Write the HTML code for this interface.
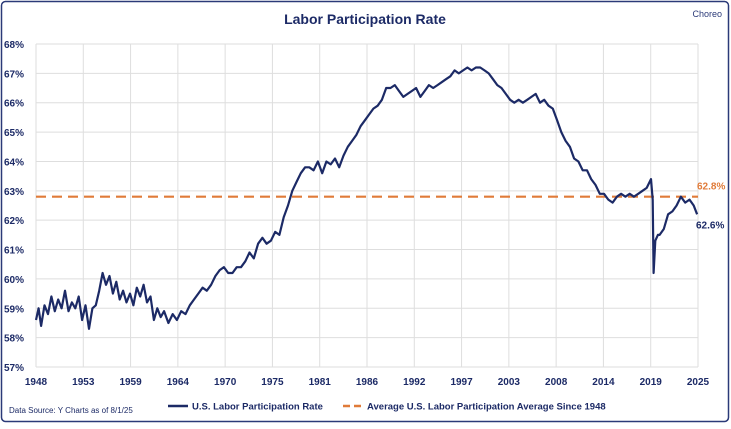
<!DOCTYPE html>
<html><head><meta charset="utf-8"><style>
body{margin:0;background:#fff;font-family:"Liberation Sans",sans-serif}
svg text{font-family:"Liberation Sans",sans-serif}
</style></head><body>
<svg width="731" height="424" viewBox="0 0 731 424">
<rect x="1.5" y="1.5" width="727" height="420" rx="4" fill="#fff" stroke="#2b3a78" stroke-width="1.5"/>
<text x="365" y="24" text-anchor="middle" font-size="14" font-weight="bold" fill="#1c2a66">Labor Participation Rate</text>
<text x="722" y="17" text-anchor="end" font-size="9" fill="#2b3a78">Choreo</text>
<g id="grid"></g>
<g id="axes"></g>
<g id="series"></g>
<g>
<line x1="168" y1="406" x2="188" y2="406" stroke="#1c2a66" stroke-width="2.5"/>
<text x="192" y="409.5" font-size="9.5" font-weight="bold" fill="#1c2a66">U.S. Labor Participation Rate</text>
<line x1="343" y1="406" x2="363" y2="406" stroke="#e07b39" stroke-width="2.5" stroke-dasharray="7,4"/>
<text x="367" y="409.5" font-size="9.5" font-weight="bold" fill="#1c2a66">Average U.S. Labor Participation Average Since 1948</text>
</g>
<text x="9" y="413" font-size="8" fill="#1c2a66">Data Source: Y Charts as of 8/1/25</text>
</svg>
<script>
const yTicks=[57,58,59,60,61,62,63,64,65,66,67,68];
const xTickLabels=["1948","1953","1959","1964","1970","1975","1981","1986","1992","1997","2003","2008","2014","2019","2025"];
const years=[1948,1948.3,1948.6,1949,1949.4,1949.8,1950.2,1950.6,1951,1951.4,1951.8,1952.2,1952.6,1953,1953.4,1953.8,1954.2,1954.6,1955,1955.4,1955.8,1956.2,1956.6,1957,1957.4,1957.8,1958.2,1958.6,1959,1959.4,1959.8,1960.2,1960.6,1961,1961.4,1961.8,1962.2,1962.6,1963,1963.5,1964,1964.5,1965,1965.5,1966,1966.5,1967,1967.5,1968,1968.5,1969,1969.5,1970,1970.5,1971,1971.5,1972,1972.5,1973,1973.5,1974,1974.5,1975,1975.5,1976,1976.5,1977,1977.5,1978,1978.5,1979,1979.5,1980,1980.5,1981,1981.5,1982,1982.5,1983,1983.5,1984,1984.5,1985,1985.5,1986,1986.5,1987,1987.5,1988,1988.5,1989,1989.5,1990,1990.5,1991,1991.5,1992,1992.5,1993,1993.5,1994,1994.5,1995,1995.5,1996,1996.5,1997,1997.5,1998,1998.5,1999,1999.5,2000,2000.5,2001,2001.5,2002,2002.5,2003,2003.5,2004,2004.5,2005,2005.5,2006,2006.5,2007,2007.5,2008,2008.5,2009,2009.5,2010,2010.5,2011,2011.5,2012,2012.5,2013,2013.5,2014,2014.5,2015,2015.5,2016,2016.5,2017,2017.5,2018,2018.5,2019,2019.5,2020,2020.2,2020.3,2020.5,2020.8,2021,2021.5,2022,2022.5,2023,2023.5,2024,2024.5,2025,2025.4];
const rate=[58.6,59.0,58.4,59.1,58.8,59.4,58.9,59.3,59.0,59.6,58.9,59.2,59.0,59.4,58.6,59.1,58.3,59.0,59.1,59.6,60.2,59.8,60.1,59.5,59.9,59.3,59.6,59.2,59.5,59.1,59.7,59.4,59.8,59.2,59.4,58.6,59.0,58.7,58.9,58.5,58.8,58.6,58.9,58.8,59.1,59.3,59.5,59.7,59.6,59.8,60.1,60.3,60.4,60.2,60.2,60.4,60.4,60.6,60.9,60.7,61.2,61.4,61.2,61.3,61.6,61.5,62.1,62.5,63.0,63.3,63.6,63.8,63.8,63.7,64.0,63.6,64.0,63.9,64.1,63.8,64.2,64.5,64.7,64.9,65.2,65.4,65.6,65.8,65.9,66.1,66.5,66.5,66.6,66.4,66.2,66.3,66.4,66.5,66.2,66.4,66.6,66.5,66.6,66.7,66.8,66.9,67.1,67.0,67.1,67.2,67.1,67.2,67.2,67.1,67.0,66.8,66.6,66.5,66.3,66.1,66.0,66.1,66.0,66.1,66.2,66.3,66.0,66.1,65.9,65.8,65.4,65.0,64.7,64.5,64.1,64.0,63.7,63.7,63.4,63.2,62.9,62.9,62.7,62.6,62.8,62.9,62.8,62.9,62.8,62.9,63.0,63.1,63.4,62.7,60.2,61.3,61.5,61.5,61.7,62.2,62.3,62.5,62.8,62.6,62.7,62.5,62.2];
const avgRate=[62.8];
const lastLabel="62.6%",avgLabel="62.8%";
const NS="http://www.w3.org/2000/svg";
const x0=36,x1=698,yTop=44,yBot=367,yMin=57,yMax=68,xMin=1948,xMax=2025.5;
function X(v){return x0+(v-xMin)/(xMax-xMin)*(x1-x0);}
function Y(v){return yBot-(v-yMin)/(yMax-yMin)*(yBot-yTop);}
function mk(tag,attrs,parent){const e=document.createElementNS(NS,tag);for(const k in attrs)e.setAttribute(k,attrs[k]);parent.appendChild(e);return e;}
const grid=document.getElementById('grid'),axes=document.getElementById('axes'),ser=document.getElementById('series');
yTicks.forEach(t=>{
 const l=mk('line',{x1:x0,x2:x1,y1:Y(t),y2:Y(t),stroke:'#dedede','stroke-width':1},grid);
 
 
 const tx=mk('text',{x:x0-12,y:Y(t)+4,'text-anchor':'end','font-size':10,'font-weight':'bold',fill:'#1c2a66'},axes);
 tx.textContent=t+'%';
 
 
});
xTickLabels.forEach((lab,i)=>{
 const xx=x0+i*(x1-x0)/(xTickLabels.length-1);
 const l=mk('line',{x1:xx,x2:xx,y1:yTop,y2:yBot,stroke:'#dedede','stroke-width':1},grid);
 
 
 const tx=mk('text',{x:xx,y:385,'text-anchor':'middle','font-size':10,'font-weight':'bold',fill:'#1c2a66'},axes);
 tx.textContent=lab;
 
 
});
const av=mk('line',{x1:x0,x2:x1,y1:Y(avgRate[0]),y2:Y(avgRate[0]),stroke:'#e07b39','stroke-width':2.2,'stroke-dasharray':'10,6'},ser);


const p=mk('polyline',{points:years.map((y,i)=>X(y).toFixed(1)+','+Y(rate[i]).toFixed(1)).join(' '),fill:'none',stroke:'#1c2a66','stroke-width':2.2,'stroke-linejoin':'round'},ser);


const a=mk('text',{x:697,y:Y(avgRate[0])-7,'font-size':10,'font-weight':'bold',fill:'#e07b39'},ser);
a.textContent=avgLabel;


const b=mk('text',{x:696,y:Y(rate[rate.length-1])+14,'font-size':10,'font-weight':'bold',fill:'#1c2a66'},ser);
b.textContent=lastLabel;


</script>
</body></html>
